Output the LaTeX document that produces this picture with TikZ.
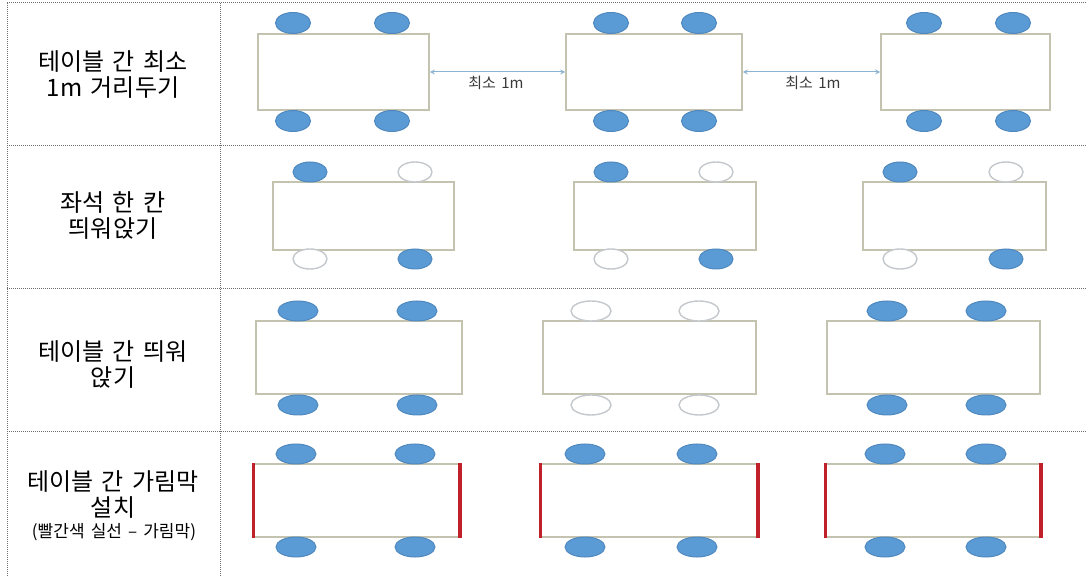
\documentclass[tikz,border=0pt]{standalone}
\usepackage{fontspec}
\newfontfamily\kr{Noto Sans CJK KR}[WordSpace=2.3]
\newfontfamily\krs{Noto Sans CJK KR}[WordSpace=1.6]
\usetikzlibrary{shapes.geometric,arrows.meta}
\definecolor{gridc}{HTML}{6E6E6E}
\definecolor{tblc}{HTML}{C3C3B0}
\definecolor{chairblue}{HTML}{5B9BD5}
\definecolor{chairedge}{HTML}{4F88BE}
\definecolor{emptyc}{HTML}{C4C8CC}
\definecolor{arrowc}{HTML}{8DB3D3}
\definecolor{screenred}{HTML}{C0202A}
\definecolor{labelc}{HTML}{3A3A3A}
\tikzset{
  grid/.style={draw=gridc, line width=0.5pt, dash pattern=on 0.5pt off 0.5pt},
  tbl/.style={rectangle, draw=tblc, line width=0.8pt, fill=white, inner sep=0pt},
  chairF/.style={ellipse, fill=chairblue, draw=chairedge, line width=0.5pt, inner sep=0pt},
  chairE/.style={ellipse, fill=white, draw=emptyc, line width=0.7pt, inner sep=0pt},
  cs1/.style={minimum width=17.5pt, minimum height=10.5pt},
  cs2/.style={minimum width=17pt, minimum height=10pt},
  cs3/.style={minimum width=20pt, minimum height=10pt},
  gap/.style={draw=arrowc, line width=0.5pt, {Stealth[length=2.5pt,width=2.5pt]}-{Stealth[length=2.5pt,width=2.5pt]}},
  gaplabel/.style={font=\krs\fontsize{7.5}{9}\selectfont, text=labelc, inner sep=0pt},
  rowlabel/.style={align=center, font=\kr\fontsize{12}{13}\selectfont, inner sep=0pt},
  screen/.style={draw=screenred, line width=1.7pt}
}
\begin{document}
\begin{tikzpicture}[x=0.5pt,y=-0.5pt]
\useasboundingbox (0,0) rectangle (1086,576);
% grid
\draw[grid] (7,3) -- (1086,3);
\draw[grid] (7,146) -- (1086,146);
\draw[grid] (7,289) -- (1086,289);
\draw[grid] (7,432) -- (1086,432);
\draw[grid] (7,3) -- (7,576);
\draw[grid] (220,3) -- (220,576);
% row labels
\node[rowlabel] (L1) at (113,75) {테이블 간 최소\\1m 거리두기};
\node[rowlabel] (L2) at (113,216) {좌석 한 칸\\띄워앉기};
\node[rowlabel] (L3) at (113,365) {테이블 간 띄워\\앉기};
\node[rowlabel] (L4) at (113,495) {테이블 간 가림막\\설치};
\node[font=\kr\fontsize{8.5}{9}\selectfont, inner sep=0pt] (L4s) at (114,532) {(빨간색 실선 – 가림막)};
% ---------- row 1
\node[tbl, minimum width=85.5pt, minimum height=38pt] (T11) at (343.5,72) {};
\node[tbl, minimum width=88pt, minimum height=38pt] (T12) at (654,72) {};
\node[tbl, minimum width=84.5pt, minimum height=38pt] (T13) at (965.5,72) {};
\foreach \n/\x in {a/293,b/392,c/611,d/699,e/924,f/1013}{
  \node[chairF, cs1] (C1t\n) at (\x,23) {};
  \node[chairF, cs1] (C1b\n) at (\x,121) {};
}
\draw[gap] (T11.east) -- (T12.west);
\draw[gap] (T12.east) -- (T13.west);
\node[gaplabel] (G1) at (496,83) {최소 1m};
\node[gaplabel] (G2) at (813,83) {최소 1m};
% ---------- row 2
\node[tbl, minimum width=90.5pt, minimum height=34pt] (T21) at (363.5,216) {};
\node[tbl, minimum width=91pt, minimum height=34pt] (T22) at (665,216) {};
\node[tbl, minimum width=91.5pt, minimum height=34pt] (T23) at (954.5,216) {};
\foreach \n/\x/\y in {a/310/415,b/611/716,c/900/1006}{
  \node[chairF, cs2] (C2tl\n) at (\x,172) {};
  \node[chairE, cs2] (C2tr\n) at (\y,172) {};
  \node[chairE, cs2] (C2bl\n) at (\x,259) {};
  \node[chairF, cs2] (C2br\n) at (\y,259) {};
}
% ---------- row 3
\node[tbl, minimum width=103pt, minimum height=36.5pt] (T31) at (359,357.5) {};
\node[tbl, minimum width=106.5pt, minimum height=36.5pt] (T32) at (649.5,357.5) {};
\node[tbl, minimum width=106.5pt, minimum height=36.5pt] (T33) at (933.5,357.5) {};
\foreach \n/\x in {a/298,b/417,e/887,f/986}{
  \node[chairF, cs3] (C3t\n) at (\x,311) {};
  \node[chairF, cs3] (C3b\n) at (\x,405) {};
}
\foreach \n/\x in {c/591,d/699}{
  \node[chairE, cs3] (C3t\n) at (\x,311) {};
  \node[chairE, cs3] (C3b\n) at (\x,405) {};
}
% ---------- row 4
\node[tbl, minimum width=102.5pt, minimum height=36.5pt] (T41) at (356.5,500.5) {};
\node[tbl, minimum width=108pt, minimum height=36.5pt] (T42) at (649,500.5) {};
\node[tbl, minimum width=107pt, minimum height=36.5pt] (T43) at (933,500.5) {};
\foreach \n/\x in {a/296,b/415,c/585,d/697,e/885,f/986}{
  \node[chairF, cs3] (C4t\n) at (\x,454) {};
  \node[chairF, cs3] (C4b\n) at (\x,547) {};
}
\foreach \t in {T41,T42,T43}{
  \draw[screen] (\t.north west) -- (\t.south west);
  \draw[screen] (\t.north east) -- (\t.south east);
}
\end{tikzpicture}
\end{document}
